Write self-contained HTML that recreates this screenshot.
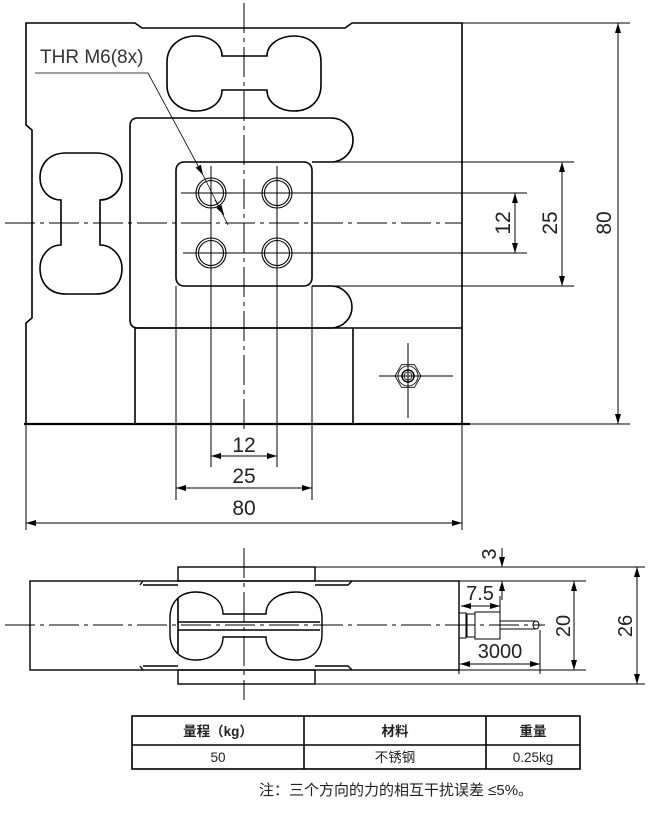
<!DOCTYPE html>
<html><head><meta charset="utf-8"><style>
html,body{margin:0;padding:0;background:#fff;}
svg{display:block;}
.t{font-family:"Liberation Sans","Noto Sans CJK SC",sans-serif;fill:#222;}
</style></head><body>
<svg width="652" height="820" viewBox="0 0 652 820" xmlns="http://www.w3.org/2000/svg">
<defs>
<marker id="a" viewBox="0 0 10 6" refX="10" refY="3" markerWidth="10" markerHeight="6" orient="auto-start-reverse" markerUnits="userSpaceOnUse"><path d="M0 0L10 3L0 6Z" fill="#000"/></marker>
</defs>
<g fill="none" stroke="#000" stroke-width="1.6">
<path d="M26 424 V323 L32 318 V130 L26 125 V23 H135 L142 28 H345 L352 23 H462 V424 Z"/>
<line x1="24" y1="424" x2="470" y2="424" stroke-width="2.2"/>
<path d="M222 56 H267 C267 44 280 36 294 36 C310 36 321 46 321 62 V85 C321 101 310 111 294 111 C280 111 267 103 267 90 H222 C222 103 210 111 196 111 C180 111 167 101 167 85 V62 C167 46 180 36 196 36 C210 36 222 44 222 56Z"/>
<path d="M61 200 V245 C49 245 40 256 40 268 C40 284 50 294 66 294 H96 C112 294 122 284 122 268 C122 256 112 245 100 245 V200 C112 200 122 190 122 178 C122 163 112 153 96 153 H66 C50 153 40 163 40 178 C40 190 49 200 61 200Z"/>
<path d="M312 162 H331 A22 22 0 0 0 331 118 H138 Q130 118 130 126 V320 Q130 328 138 328 H331 A21 21 0 0 0 331 286 H312"/>
<rect x="176" y="162" width="136" height="124" rx="8"/>
<line x1="135" y1="328" x2="462" y2="328"/>
<line x1="135" y1="328" x2="135" y2="424"/>
<line x1="353" y1="328" x2="353" y2="424"/>
</g>
<g fill="none" stroke="#000" stroke-width="1.1">
<circle cx="211" cy="193" r="15"/><circle cx="211" cy="193" r="12.5"/>
<circle cx="277" cy="193" r="15"/><circle cx="277" cy="193" r="12.5"/>
<circle cx="211" cy="253" r="15"/><circle cx="211" cy="253" r="12.5"/>
<circle cx="277" cy="253" r="15"/><circle cx="277" cy="253" r="12.5"/>
<polygon points="421,376 414.5,387.3 401.5,387.3 395,376 401.5,364.7 414.5,364.7" stroke-width="0.8"/>
<circle cx="408" cy="376" r="10" stroke-width="0.8"/>
<circle cx="408" cy="376" r="6" stroke-width="1.4"/>
<circle cx="408" cy="376" r="4" stroke-width="0.8"/>
</g>
<g stroke="#000" stroke-width="1" fill="none">
<line x1="244" y1="3" x2="244" y2="432" stroke-dasharray="30 5 4 5"/>
<line x1="5" y1="223" x2="462" y2="223" stroke-dasharray="30 5 4 5"/>
<line x1="379" y1="376" x2="453" y2="376"/>
<line x1="408" y1="343" x2="408" y2="418"/>
<line x1="176" y1="286" x2="176" y2="500"/>
<line x1="312" y1="286" x2="312" y2="500"/>
<line x1="211" y1="166" x2="211" y2="467"/>
<line x1="277" y1="166" x2="277" y2="467"/>
<line x1="26" y1="424" x2="26" y2="530"/>
<line x1="462" y1="424" x2="462" y2="530"/>
<line x1="181" y1="193" x2="527" y2="193"/>
<line x1="183" y1="253" x2="527" y2="253"/>
<line x1="312" y1="162" x2="574" y2="162"/>
<line x1="312" y1="286" x2="574" y2="286"/>
<line x1="462" y1="23" x2="630" y2="23"/>
<line x1="462" y1="424" x2="630" y2="424"/>
<line x1="211" y1="456" x2="277" y2="456" marker-start="url(#a)" marker-end="url(#a)"/>
<line x1="176" y1="488" x2="312" y2="488" marker-start="url(#a)" marker-end="url(#a)"/>
<line x1="26" y1="523" x2="462" y2="523" marker-start="url(#a)" marker-end="url(#a)"/>
<line x1="515" y1="193" x2="515" y2="253" marker-start="url(#a)" marker-end="url(#a)"/>
<line x1="562" y1="162" x2="562" y2="286" marker-start="url(#a)" marker-end="url(#a)"/>
<line x1="618" y1="23" x2="618" y2="424" marker-start="url(#a)" marker-end="url(#a)"/>
<polyline points="35,73 148,73 203,175" stroke-width="0.8" marker-end="url(#a)"/>
<line x1="203" y1="175" x2="228" y2="225" stroke-width="0.8"/>
<line x1="215" y1="200" x2="224" y2="215" stroke-width="0.8" marker-end="url(#a)"/>
</g>
<g class="t" font-size="21">
<text x="40" y="63" font-size="19" fill="#333">THR M6(8x)</text>
<text x="244" y="452" text-anchor="middle">12</text>
<text x="244" y="483" text-anchor="middle">25</text>
<text x="244" y="515" text-anchor="middle">80</text>
<text transform="translate(510,223) rotate(-90)" text-anchor="middle">12</text>
<text transform="translate(557,223) rotate(-90)" text-anchor="middle">25</text>
<text transform="translate(611,223) rotate(-90)" text-anchor="middle">80</text>
</g>
<g fill="none" stroke="#000" stroke-width="1.4">
<rect x="30" y="581" width="429" height="89"/>
<rect x="178" y="567" width="137" height="14"/>
<rect x="178" y="670" width="137" height="14"/>
<path d="M140 585 L143 581 M143 585 H178 M315 585 H348 L352 581"/>
<path d="M140 666 L143 670 M143 666 H178 M315 666 H348 L352 670"/>
<path d="M223 614 H266 C266 600 280 592 296 592 C312 592 322 602 322 618 V634 C322 650 312 660 296 660 C280 660 266 652 266 637 H223 C223 652 210 660 196 660 C180 660 170 650 170 634 V618 C170 602 180 592 196 592 C210 592 223 600 223 614 Z"/>
<path d="M178 598 V653 M178 622 H320 M178 630 H320" stroke-width="1.6"/>
<rect x="459" y="613" width="7" height="25" stroke-width="1"/>
<rect x="467" y="614" width="8" height="23" stroke-width="1"/>
<rect x="475" y="612" width="25" height="27" stroke-width="1"/>
<path d="M500 621 H536 M500 629 H536" stroke-width="1"/>
<ellipse cx="536" cy="625" rx="3" ry="4" stroke-width="1"/>
</g>
<g stroke="#000" stroke-width="1" fill="none">
<line x1="244" y1="548" x2="244" y2="700" stroke-dasharray="30 5 4 5"/>
<line x1="5" y1="625" x2="545" y2="625" stroke-dasharray="30 5 4 5"/>
<line x1="315" y1="567" x2="645" y2="567"/>
<line x1="315" y1="684" x2="645" y2="684"/>
<line x1="459" y1="581" x2="586" y2="581"/>
<line x1="459" y1="670" x2="586" y2="670"/>
<line x1="459" y1="670" x2="459" y2="674"/>
<line x1="540" y1="630" x2="540" y2="674"/>
<line x1="500" y1="596" x2="500" y2="612"/>
<line x1="502" y1="548" x2="502" y2="567" marker-end="url(#a)"/>
<line x1="502" y1="600" x2="502" y2="581" marker-end="url(#a)"/>
<line x1="461" y1="606" x2="500" y2="606" marker-start="url(#a)" marker-end="url(#a)"/>
<line x1="460" y1="664" x2="540" y2="664" marker-start="url(#a)" marker-end="url(#a)"/>
<line x1="574" y1="581" x2="574" y2="670" marker-start="url(#a)" marker-end="url(#a)"/>
<line x1="637" y1="567" x2="637" y2="684" marker-start="url(#a)" marker-end="url(#a)"/>
</g>
<g class="t" font-size="20">
<text transform="translate(496,554) rotate(-90)" text-anchor="middle">3</text>
<text x="480" y="600" text-anchor="middle">7.5</text>
<text x="500" y="658" text-anchor="middle">3000</text>
<text transform="translate(570,626) rotate(-90)" text-anchor="middle">20</text>
<text transform="translate(632,626) rotate(-90)" text-anchor="middle">26</text>
</g>
<g fill="none" stroke="#000" stroke-width="1.6">
<rect x="132" y="716" width="448" height="53"/>
<line x1="132" y1="745" x2="580" y2="745"/>
<line x1="304" y1="716" x2="304" y2="769"/>
<line x1="486" y1="716" x2="486" y2="769"/>
</g>
<g class="t" font-size="13.5" text-anchor="middle" fill="#111">
<text x="218" y="736" font-weight="bold">量程（kg）</text>
<text x="395" y="736" font-weight="bold">材料</text>
<text x="533" y="736" font-weight="bold">重量</text>
<text x="218" y="762">50</text>
<text x="395" y="762">不锈钢</text>
<text x="533" y="762">0.25kg</text>
<text x="396" y="795" font-size="15">注：三个方向的力的相互干扰误差 ≤5%。</text>
</g>
</svg>
</body></html>
